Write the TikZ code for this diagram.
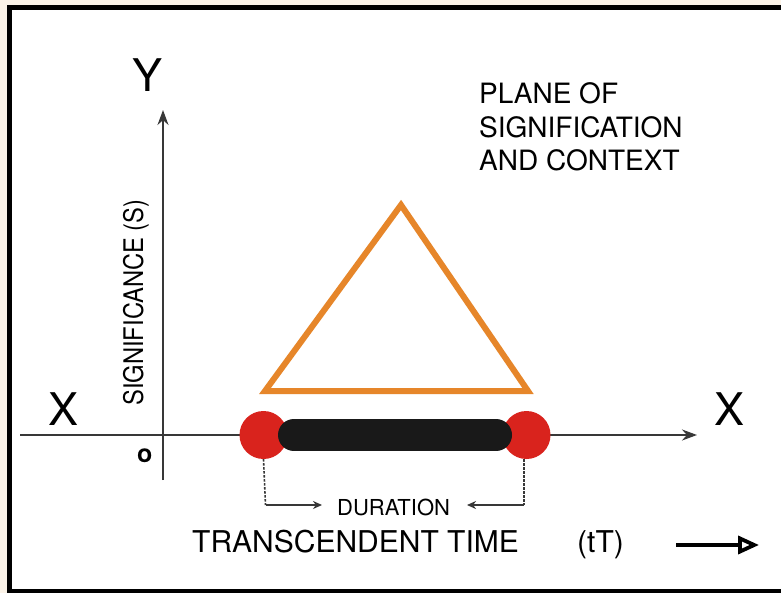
\documentclass[tikz,border=0pt]{standalone}
\usepackage{fontspec}
\setmainfont{TeX Gyre Heros}
\newfontfamily\narrowfont{TeX Gyre Heros}[FakeStretch=0.88]
\usetikzlibrary{arrows.meta}
\definecolor{cream}{HTML}{FBF3E8}
\definecolor{amber}{HTML}{E6862A}
\definecolor{scarlet}{HTML}{D9231D}
\definecolor{axisgray}{HTML}{383838}

\begin{document}
\begin{tikzpicture}[x=1pt,y=-1pt,
  axis/.style={line width=1.8pt,axisgray,-{Stealth[length=15pt,width=11pt]}},
  lbl/.style={inner sep=0pt,anchor=base west},
  dot/.style={circle,fill=scarlet,minimum size=48pt,inner sep=0pt},
  bar/.style={line width=32pt,line cap=round,black!90,shorten <=30.5pt,shorten >=30.5pt},
  guide/.style={line width=1.6pt,axisgray,dash pattern=on 2.5pt off 1.5pt},
  span/.style={line width=1.5pt,axisgray,-{Stealth[length=9pt,width=8pt]}}]
\useasboundingbox (0,0) rectangle (781,593);
\fill[cream] (0,0) rectangle (781,593);
\filldraw[fill=white,draw=black,line width=5.5pt] (9.5,7.5) rectangle (790,591.5);
% axes
\coordinate (xfrom) at (20,435); \coordinate (xto) at (697,435);
\coordinate (yfrom) at (163,480); \coordinate (yto) at (163,110);
\draw[axis] (xfrom) -- (xto);
\draw[axis] (yfrom) -- (yto);
\node[lbl,font=\fontsize{45}{45}\selectfont] (ylab) at (132,92) {Y};
\node[lbl,font=\fontsize{45}{45}\selectfont] (xleft) at (48,425) {X};
\node[lbl,font=\fontsize{45}{45}\selectfont] (xright) at (714,425) {X};
\node[lbl,font=\fontsize{25}{25}\selectfont\bfseries] (origin) at (137,462) {o};
\node[lbl,rotate=90,font=\fontsize{27}{27}\selectfont\narrowfont] (slab) at (143,406) {SIGNIFICANCE (S)};
% plane
\node[inner sep=0pt,anchor=north west,align=left,font=\fontsize{28}{33.5}\selectfont] (plane) at (479,82.5)
  {PLANE OF\\SIGNIFICATION\\AND CONTEXT};
\draw[amber,line width=6pt] (401,205) -- (528,391) -- (265,391) -- cycle;
% duration bar
\node[dot] (start) at (263.5,435) {};
\node[dot] (end) at (526.5,435) {};
\draw[bar] (start.center) -- (end.center);
\coordinate (lcorner) at (265.5,505); \coordinate (rcorner) at (524,505);
\coordinate (ltip) at (322,505); \coordinate (rtip) at (467,505);
\draw[guide] (start.south) -- (lcorner);
\draw[guide] (end.south -| rcorner) -- (rcorner);
\draw[span] (lcorner) -- (ltip);
\draw[span] (rcorner) -- (rtip);
\node[lbl,font=\fontsize{22}{22}\selectfont] (dur) at (337,515) {DURATION};
% time
\node[lbl,font=\fontsize{30}{30}\selectfont] (time) at (192,552) {TRANSCENDENT TIME};
\node[lbl,font=\fontsize{30}{30}\selectfont] (tt) at (577,552) {(tT)};
\coordinate (tfrom) at (676,545); \coordinate (tto) at (759,545);
\draw[line width=3.8pt,-{Triangle[open,length=21pt,width=18pt]}] (tfrom) -- (tto);
\end{tikzpicture}
\end{document}
